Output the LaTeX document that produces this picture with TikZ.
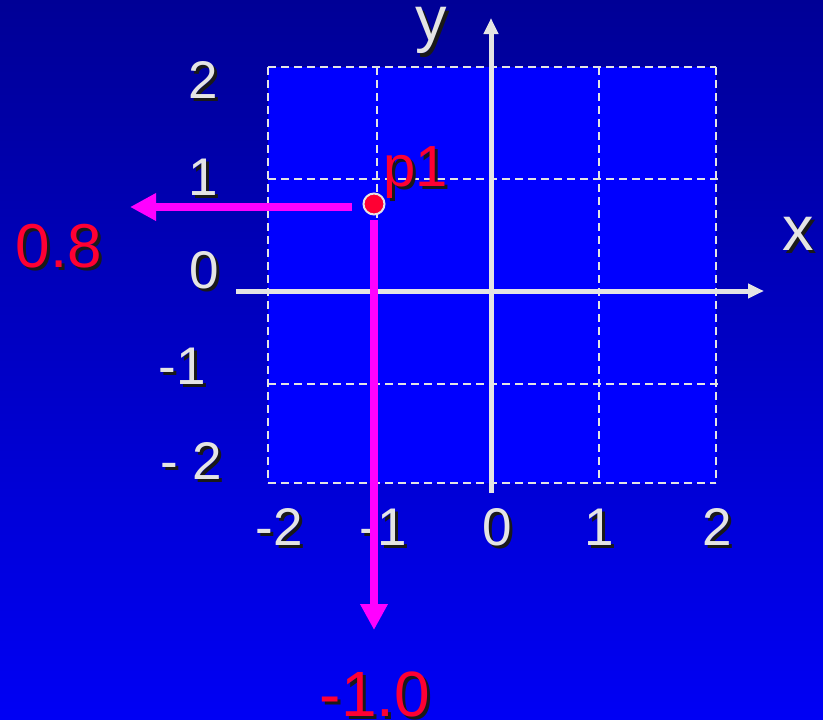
\documentclass[tikz,border=0pt]{standalone}
\usepackage{fontspec}
\setmainfont{Liberation Sans}
\usetikzlibrary{arrows.meta}
\definecolor{bgtop}{RGB}{0,0,150}
\definecolor{bgbot}{RGB}{0,0,245}
\definecolor{gridfill}{RGB}{0,0,255}
\definecolor{axisgray}{RGB}{228,228,228}
\definecolor{redtxt}{RGB}{255,0,51}
\definecolor{mag}{RGB}{255,0,255}
\newcommand{\shd}[2]{\makebox[0pt][l]{\hspace{3pt}\raisebox{-3pt}{\color{black!90}#2}}{\color{#1}#2}}
\begin{document}
\begin{tikzpicture}[x=1pt,y=-1pt,
  gridline/.style={draw=axisgray, line width=2pt, dash pattern=on 8pt off 5pt},
  axisline/.style={draw=axisgray, line width=5pt, -{Triangle[length=16pt,width=14pt]}},
  magarrow/.style={draw=mag, line width=8pt, -{Triangle[length=26pt,width=26pt]}},
  lbl/.style={anchor=base, inner sep=0pt, font=\fontsize{53}{60}\selectfont},
  axlbl/.style={anchor=base, inner sep=0pt, font=\fontsize{63}{70}\selectfont},
  redlbl/.style={anchor=base, inner sep=0pt}
]
\useasboundingbox (0,0) rectangle (823,720);
\shade[top color=bgtop, bottom color=bgbot] (0,0) rectangle (823,720);
% grid
\fill[gridfill] (268,67) rectangle (716,483);
\foreach \gx in {268,377,599,716} \draw[gridline] (\gx,67) -- (\gx,483);
\draw[gridline] (268,67) -- (716,67);
\draw[gridline] (268,483) -- (716,483);
\draw[gridline] (268,179) -- (722,179);
\draw[gridline] (268,384) -- (722,384);
% axes
\coordinate (xs) at (236,291);
\coordinate (xe) at (764,291);
\coordinate (ys) at (491,493);
\coordinate (ye) at (491,18);
\draw[axisline] (xs) -- (xe);
\draw[axisline] (ys) -- (ye);
\node[axlbl] (ylab) at (431,41) {\shd{axisgray}{y}};
\node[axlbl] (xlab) at (798,250) {\shd{axisgray}{x}};
% left tick labels
\node[lbl] (l2) at (203,98) {\shd{axisgray}{2}};
\node[lbl] (l1) at (203,195) {\shd{axisgray}{1}};
\node[lbl] (l0) at (204,288) {\shd{axisgray}{0}};
\node[lbl] (lm1) at (182,384) {\shd{axisgray}{-1}};
\node[lbl] (lm2) at (191,479) {\shd{axisgray}{- 2}};
% bottom tick labels
\node[lbl] (bm2) at (279,545) {\shd{axisgray}{-2}};
\node[lbl] (bm1) at (383,545) {\shd{axisgray}{-1}};
\node[lbl] (b0) at (497,545) {\shd{axisgray}{0}};
\node[lbl] (b1) at (599,545) {\shd{axisgray}{1}};
\node[lbl] (b2) at (717,545) {\shd{axisgray}{2}};
% projections
\coordinate (hs) at (352,207);
\coordinate (he) at (130,207);
\coordinate (vs) at (374,220);
\coordinate (ve) at (374,630);
\draw[magarrow] (hs) -- (he);
\draw[magarrow] (vs) -- (ve);
% point
\node[circle, fill=redtxt, draw=axisgray, line width=2pt, minimum size=21pt, inner sep=0pt] (p1pt) at (374,204) {};
\node[redlbl, font=\fontsize{58}{64}\selectfont] (p1lab) at (416,186) {\shd{redtxt}{p1}};
\node[redlbl, font=\fontsize{62}{70}\selectfont] (xval) at (59,267) {\shd{redtxt}{0.8}};
\node[redlbl, font=\fontsize{64}{70}\selectfont] (yval) at (375,716) {\shd{redtxt}{-1.0}};
\end{tikzpicture}
\end{document}
